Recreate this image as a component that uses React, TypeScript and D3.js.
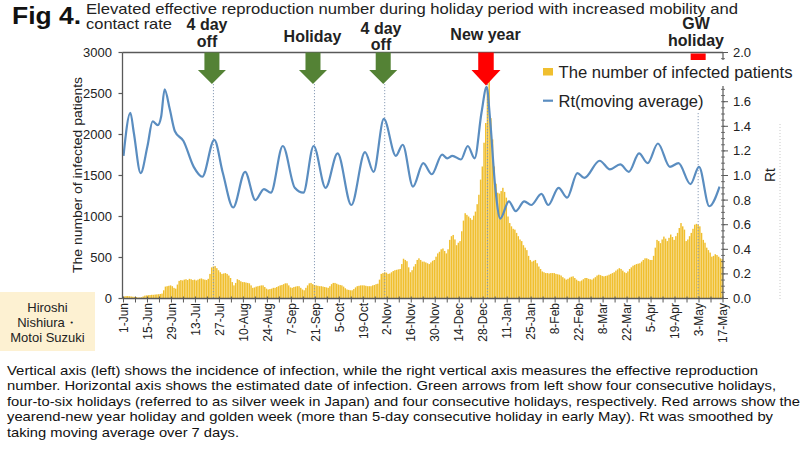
import React from 'react';
import * as d3 from 'd3';

// ---------- DATA ----------
const tickLabels = ["1-Jun","15-Jun","29-Jun","13-Jul","27-Jul","10-Aug","24-Aug","7-Sep","21-Sep","5-Oct","19-Oct","2-Nov","16-Nov","30-Nov","14-Dec","28-Dec","11-Jan","25-Jan","8-Feb","22-Feb","8-Mar","22-Mar","5-Apr","19-Apr","3-May","17-May"];

// daily number of infected patients, from 1-Jun (day 0)
const infected = [
  25, 30, 30, 28, 25, 22, 20,
  18, 12, 12, 15, 25, 35, 38,
  40, 42, 45, 45, 48, 50, 52,
  55, 60, 100, 145, 150, 155, 160,
  150, 130, 120, 170, 215, 225, 220,
  230, 235, 225, 240, 235, 225, 230,
  220, 230, 240, 245, 235, 230, 225,
  240, 300, 380, 390, 395, 370, 345,
  320, 300, 305, 310, 300, 280, 250,
  200, 160, 190, 235, 225, 210, 200,
  200, 195, 190, 185, 160, 130, 135,
  145, 150, 155, 160, 160, 140, 120,
  110, 115, 120, 130, 130, 140, 150,
  160, 165, 175, 185, 185, 160, 135,
  130, 140, 145, 150, 150, 130, 110,
  100, 130, 160, 185, 190, 175, 165,
  160, 155, 150, 150, 145, 140, 135,
  130, 150, 175, 190, 190, 180, 170,
  165, 160, 145, 125, 110, 105, 100,
  100, 115, 135, 150, 155, 160, 160,
  160, 155, 150, 150, 150, 160, 165,
  175, 180, 230, 300, 310, 320, 315,
  300, 305, 320, 335, 345, 350, 355,
  360, 420, 485, 470, 455, 380, 320,
  345, 390, 420, 470, 490, 470, 450,
  450, 440, 430, 420, 440, 460, 470,
  510, 550, 570, 600, 610, 580, 550,
  600, 715, 760, 775, 720, 650, 680,
  700, 820, 950, 1040, 1020, 1000, 980,
  960, 1010, 1060, 1150, 1265, 1450, 1610,
  1900, 2140, 2550, 2680, 2200, 1940, 1610,
  1400, 1290, 1280, 1310, 1350, 1300, 1230,
  1000, 920, 880, 850, 840, 800, 760,
  720, 700, 650, 620, 590, 520, 470,
  450, 460, 470, 430, 390, 360, 330,
  320, 310, 310, 305, 310, 310, 310,
  300, 295, 290, 280, 260, 245, 230,
  240, 255, 265, 270, 250, 230, 215,
  210, 220, 235, 250, 250, 240, 235,
  230, 245, 260, 280, 290, 285, 275,
  270, 275, 280, 290, 300, 310, 320,
  340, 355, 370, 360, 340, 320, 310,
  330, 360, 380, 400, 410, 420, 425,
  430, 450, 470, 490, 490, 480, 470,
  470, 520, 620, 715, 700, 675, 720,
  755, 730, 700, 740, 780, 750, 715,
  760, 800, 860, 920, 880, 840, 700,
  720, 760, 800, 850, 900, 910, 900,
  880, 800, 715, 680, 620, 590, 560,
  510, 520, 540, 530, 510, 490, 480,
];

// Rt (7-day moving average), day offset from 1-Jun
const rtDays = [0,4,6,10,14,17,20,22,24,27,30,35,41,46,53,58,64,71,77,82,86,93,100,105,111,118,125,133,141,146,152,159,163,169,175,180,186,189,192,197,201,205,209,212,214,217,220,225,229,234,238,244,248,254,259,265,269,278,284,290,295,301,306,312,319,324,331,336,342,348];
const rtValues = [1.16,1.51,1.35,1.02,1.24,1.44,1.41,1.48,1.70,1.54,1.36,1.28,1.07,0.99,1.29,1.02,0.74,1.03,0.80,0.89,0.86,1.24,0.90,0.86,1.24,0.90,1.18,0.76,1.19,1.03,1.46,1.16,1.25,0.91,1.10,1.01,1.17,1.14,1.16,1.13,1.24,1.14,1.51,1.72,1.46,0.91,0.65,0.79,0.71,0.79,0.76,0.85,0.76,0.90,0.82,1.02,0.98,1.12,1.05,1.09,1.03,1.18,1.10,1.26,1.07,1.10,0.93,1.07,0.75,0.91];

const leftTicks = [0, 500, 1000, 1500, 2000, 2500, 3000];
const rightTicks = [0, 0.2, 0.4, 0.6, 0.8, 1.0, 1.2, 1.4, 1.6, 1.8, 2.0];
// tick labels actually visible (1.8 is hidden behind the legend)
const rightTickLabels = ["0.0", "0.2", "0.4", "0.6", "0.8", "1.0", "1.2", "1.4", "1.6", "", "2.0"];

// holidays (day offset from 1-Jun)
const holidayDays = [52, 111, 152, 212, 335];
const holidayNames = [["4 day", "off"], ["Holiday"], ["4 day", "off"], ["New year"], ["GW", "holiday"]];
const holidayKinds = ["green", "green", "green", "red", "redbox"];

const captionLines = [
  "Vertical axis (left) shows the incidence of infection, while the right vertical axis measures the effective reproduction",
  "number. Horizontal axis shows the estimated date of infection. Green arrows from left show four consecutive holidays,",
  "four-to-six holidays (referred to as silver week in Japan) and four consecutive holidays, respectively. Red arrows show the",
  "yearend-new year holiday and golden week (more than 5-day consecutive holiday in early May). Rt was smoothed by",
  "taking moving average over 7 days.",
];
const authors = ["Hiroshi", "Nishiura・", "Motoi Suzuki"];

// ---------- LAYOUT / STYLE ----------
const FONT = "'Liberation Sans', Arial, sans-serif";
const AXIS = "#595959";
const BAR = "#f0bf2f";
const LINE = "#5a8dc0";
const GREEN = "#548235";
const RED = "#ff0000";

const captionWidths = [751, 769, 793, 766, 232];
const captionY = [374.5, 390, 405.5, 421, 436.5];
// label baselines for each holiday label line
const labelLayout = [
  { x: 207, ys: [30, 46.5] },
  { x: 312.5, ys: [41.5] },
  { x: 381, ys: [33.5, 50] },
  { x: 485.5, ys: [39.5] },
  { x: 696, ys: [28.5, 45.5] },
];

function arrowPath(cx: number, top: number, shaftW: number, headW: number, headY: number, tip: number) {
  return `M${cx - shaftW / 2},${top} L${cx + shaftW / 2},${top} L${cx + shaftW / 2},${headY} L${cx + headW / 2},${headY} L${cx},${tip} L${cx - headW / 2},${headY} L${cx - shaftW / 2},${headY} Z`;
}

export default function App() {
  const x = d3.scaleLinear().domain([0, 350]).range([123.5, 723]);
  const yL = d3.scaleLinear().domain([0, 3000]).range([298.5, 52.5]);
  const yR = d3.scaleLinear().domain([0, 2]).range([298.5, 52.5]);

  const pts: [number, number][] = rtValues.map((v, i) => [rtDays[i], v]);
  const linePath = d3.line<[number, number]>()
    .x(d => x(d[0]))
    .y(d => yR(d[1]))
    .curve(d3.curveMonotoneX)(pts) || "";

  const weekTicks = d3.range(0, 351, 7);
  const minorR = d3.range(0, 2.001, 0.05);

  const left = x(0) - 1;
  const right = x(350);
  const top = yL(3000);
  const bottom = yL(0);

  return (
    <svg width={800} height={450} style={{ position: 'absolute', left: 0, top: 0, background: '#fff' }} fontFamily={FONT}>
      <rect x={0} y={0} width={800} height={450} fill="#fff" />

      {/* Title */}
      <text x={12} y={24} fontSize={23} fontWeight="bold" textLength={69} lengthAdjust="spacingAndGlyphs" fill="#111">Fig 4.</text>
      <text x={86} y={13.5} fontSize={14.5} textLength={652} lengthAdjust="spacingAndGlyphs" fill="#222">Elevated effective reproduction number during holiday period with increased mobility and</text>
      <text x={86} y={28.5} fontSize={14.5} textLength={86} lengthAdjust="spacingAndGlyphs" fill="#222">contact rate</text>

      {/* Bars */}
      <g>
        {infected.map((v, i) => (
          <rect key={i} x={x(i) + 0.1} y={yL(v)} width={Math.max(0.5, x(i + 1) - x(i) - 0.25)} height={yL(0) - yL(v)} fill={BAR} />
        ))}
      </g>

      {/* Dotted holiday lines */}
      {holidayDays.map((d, i) => (
        <line key={i} x1={x(d + 0.5)} x2={x(d + 0.5)} y1={holidayKinds[i] === 'redbox' ? 62 : 84} y2={bottom}
          stroke="#7f93b0" strokeWidth={0.9} strokeDasharray="1.2,1.8" />
      ))}

      {/* Rt line */}
      <path d={linePath} fill="none" stroke={LINE} strokeWidth={2.2} />

      {/* Axes frame */}
      <line x1={left} x2={right} y1={top} y2={top} stroke={AXIS} strokeWidth={1.5} />
      <line x1={left} x2={left} y1={top} y2={bottom} stroke={AXIS} strokeWidth={1.3} />
      <line x1={right} x2={right} y1={top} y2={bottom} stroke={AXIS} strokeWidth={1.2} />
      <line x1={left} x2={right} y1={bottom} y2={bottom} stroke={AXIS} strokeWidth={1.3} />

      {/* Left axis */}
      {leftTicks.map(t => (
        <g key={t}>
          <line x1={left - 4} x2={left} y1={yL(t)} y2={yL(t)} stroke={AXIS} strokeWidth={1.2} />
          <text x={112} y={yL(t)} dy="0.35em" textAnchor="end" fontSize={13} fill="#222">{t}</text>
        </g>
      ))}
      <text transform={`translate(77,175) rotate(-90)`} textAnchor="middle" dy="0.35em" fontSize={13.5} textLength={196} lengthAdjust="spacingAndGlyphs" fill="#222">The number of infected patients</text>

      {/* Right axis */}
      {minorR.map((t, i) => (
        <line key={i} x1={right - 2} x2={right + 2} y1={yR(t)} y2={yR(t)} stroke={AXIS} strokeWidth={0.8} />
      ))}
      {rightTicks.map((t, i) => (
        <g key={t}>
          <line x1={right} x2={right + 5} y1={yR(t)} y2={yR(t)} stroke={AXIS} strokeWidth={1} />
          {rightTickLabels[i] && <text x={733} y={yR(t)} dy="0.35em" fontSize={13} fill="#222">{rightTickLabels[i]}</text>}
        </g>
      ))}
      <text transform={`translate(770,175) rotate(-90)`} textAnchor="middle" dy="0.35em" fontSize={14} fill="#222">Rt</text>
      <line x1={780} x2={780} y1={124} y2={300} stroke="#bbbbbb" strokeWidth={0.8} strokeDasharray="1,2" />

      {/* X axis */}
      {weekTicks.map(d => (
        <line key={d} x1={x(d)} x2={x(d)} y1={bottom - 2} y2={bottom + 4} stroke={AXIS} strokeWidth={1} />
      ))}
      {tickLabels.map((lab, i) => (
        <text key={lab} transform={`translate(${x(i * 14)},303) rotate(-90)`} textAnchor="end" dy="0.35em" fontSize={12} fill="#222">{lab}</text>
      ))}

      {/* Arrows and holiday labels */}
      {holidayDays.map((d, i) => {
        const cx = x(d + 0.5) - 1.5;
        const kind = holidayKinds[i];
        const lay = labelLayout[i];
        return (
          <g key={i}>
            {kind === 'green' && <path d={arrowPath(cx, top, 15, 28, 70, 84)} fill={GREEN} />}
            {kind === 'red' && <path d={arrowPath(cx, top, 15.5, 29, 70, 85.5)} fill={RED} />}
            {kind === 'redbox' && <rect x={x(d + 0.5) - 7.5} y={top + 1} width={15} height={8} fill={RED} />}
            {holidayNames[i].map((s, j) => (
              <text key={j} x={lay.x} y={lay.ys[j]} textAnchor="middle" fontSize={16} fontWeight="bold" fill="#222">{s}</text>
            ))}
          </g>
        );
      })}

      {/* Legend */}
      <rect x={538} y={60} width={262} height={26} fill="#fff" />
      <rect x={538} y={86} width={168} height={27} fill="#fff" />
      <rect x={543} y={68} width={10} height={7.5} fill={BAR} />
      <text x={558.5} y={77.5} fontSize={16} textLength={234} lengthAdjust="spacingAndGlyphs" fill="#222">The number of infected patients</text>
      <line x1={543} x2={553} y1={100.7} y2={100.7} stroke={LINE} strokeWidth={2.2} />
      <text x={558.5} y={106.5} fontSize={16} textLength={145} lengthAdjust="spacingAndGlyphs" fill="#222">Rt(moving average)</text>

      {/* Authors box */}
      <rect x={0} y={292} width={95} height={59} fill="#fdf1d2" />
      {authors.map((a, i) => (
        <text key={i} x={47.5} y={312 + i * 15} textAnchor="middle" fontSize={13} fill="#222">{a}</text>
      ))}

      {/* Caption */}
      {captionLines.map((s, i) => (
        <text key={i} x={7} y={captionY[i]} fontSize={13} textLength={captionWidths[i]} lengthAdjust="spacingAndGlyphs" fill="#111">{s}</text>
      ))}
    </svg>
  );
}
